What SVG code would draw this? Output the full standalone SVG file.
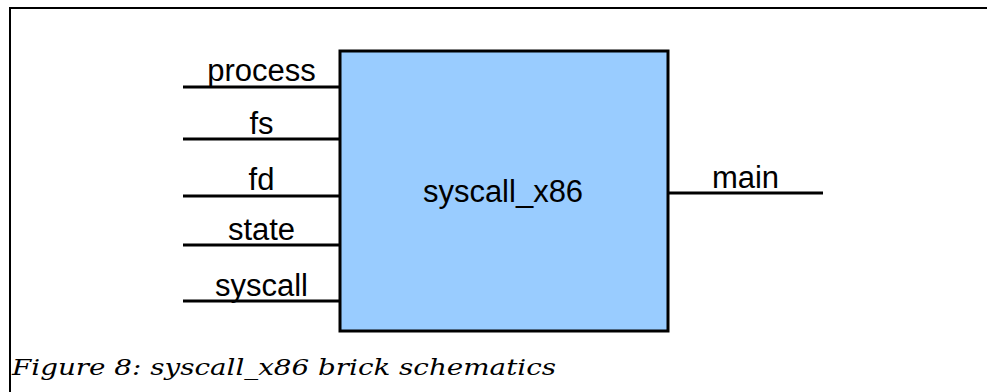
<svg xmlns="http://www.w3.org/2000/svg" width="987" height="392" viewBox="0 0 987 392">
<style>
.lbl{font-family:"Liberation Sans",Arial,sans-serif;font-size:31px;fill:#000;text-anchor:middle}
.wire{stroke:#000;stroke-width:3;fill:none}
.cap{font-family:"DejaVu Serif",Georgia,serif;font-style:italic;font-size:23px;fill:#000}
</style>
<rect x="10" y="8" width="1000" height="400" fill="#fff" stroke="#000" stroke-width="2"/>
<g id="connectors">
<line class="wire" x1="183" y1="87" x2="340" y2="87"/>
<line class="wire" x1="183" y1="139" x2="340" y2="139"/>
<line class="wire" x1="183" y1="196" x2="340" y2="196"/>
<line class="wire" x1="183" y1="245" x2="340" y2="245"/>
<line class="wire" x1="183" y1="301" x2="340" y2="301"/>
<line class="wire" x1="668" y1="193" x2="823" y2="193"/>
<text class="lbl" x="261.5" y="81">process</text>
<text class="lbl" x="261.5" y="134">fs</text>
<text class="lbl" x="261.5" y="190">fd</text>
<text class="lbl" x="261.5" y="240">state</text>
<text class="lbl" x="261.5" y="296">syscall</text>
<text class="lbl" x="745.5" y="188">main</text>
</g>
<g id="syscall_x86">
<rect x="340" y="51" width="328" height="280" fill="#99CCFF" stroke="#000" stroke-width="3"/>
<text class="lbl" x="503" y="202">syscall_x86</text>
</g>
<text class="cap" x="12" y="375" textLength="544" lengthAdjust="spacingAndGlyphs">Figure 8: syscall_x86 brick schematics</text>
</svg>
